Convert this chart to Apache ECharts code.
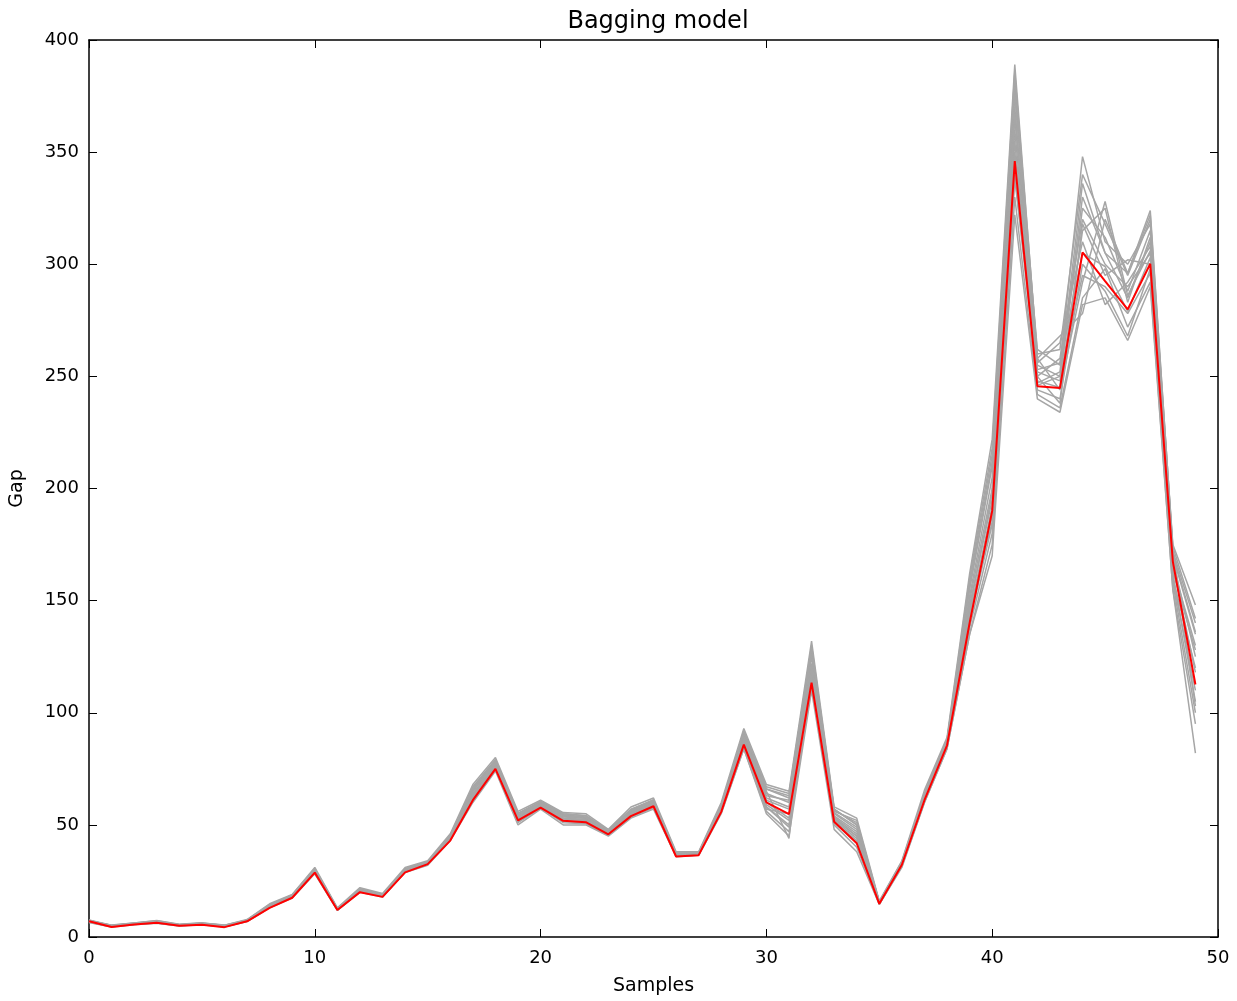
<!DOCTYPE html>
<html><head><meta charset="utf-8">
<script src="https://cdn.jsdelivr.net/npm/echarts@6/dist/echarts.min.js"></script>
<style>html,body{margin:0;padding:0;background:#fff}#c{width:1237px;height:1001px}</style>
</head><body><div id="c"></div>
<script>
const title = "Bagging model";
const xName = "Samples";
const yName = "Gap";
const samples = Array.from({length:50},(_, i)=>i);
const meanValues = [7,4.5,5.6,6.4,5,5.5,4.4,7,13,17.5,28.7,12,20,17.9,28.8,32.5,43,61,75,52,57.7,51.8,51.2,45.8,53.9,58.3,35.9,36.5,55.8,85.8,60,54.8,113.4,51.4,41.8,14.8,32.2,61,85.5,140,190,346,245.6,244.8,305.3,292.5,279.9,300.2,167.4,112.6];
const model1 = [7.5,5,6,7,5.5,6,5,7.5,14,18.5,30,12.5,21,18.5,30,33,45,65,78,54,60,54,53,47,56,60,37,37,58,90,64,60,125,55,48,15.5,33,63,87,150,200,380,255,250,330,305,285,310,165,130];
const model2 = [6.8,4.8,5.8,6.8,5.2,5.8,4.8,7.2,13.5,18,29.5,12.2,20.5,18.2,29.5,32.8,44,63,76,53,59,53,52,46.5,55,59.5,36.5,37,57,88,58,50,120,53,45,15,32.8,62,86,145,185,360,250,258,320,300,290,305,160,120];
const model3 = [7.2,5.2,6.2,7.2,5.6,6.2,5.2,7.6,14.5,18.8,30.5,12.8,21.5,19,30.5,33.5,45.5,67,79,55,60.5,55,54,47.5,57,61,37.5,37.5,59,92,66,63,130,57,50,15.8,33.5,64,88,155,210,385,260,262,340,318,295,320,172,140];
const model4 = [6.6,4.6,5.6,6.2,5,5.6,4.6,7,13.2,17.6,28.5,12,20.2,18,29,32.2,43.5,61,75,51,57.5,51,50.5,45.5,53.5,57.5,36,36.6,55.5,84,56,47,112,50,40,14.6,31.5,60,84,135,175,330,242,236,285,298,272,292,155,95];
const model5 = [7,5,5.9,6.6,5.3,5.9,4.9,7.3,13.8,18.2,29.8,12.4,20.8,18.6,29.8,33.2,44.5,64,77,53.5,59.5,53.5,53,47,55.5,60,36.8,37.2,57.5,89,62,58,122,54,47,15.2,33,62.5,86.5,148,195,370,248,245,315,325,283,312,170,135];
const model6 = [7.4,4.9,6.1,6.9,5.5,6.1,5.1,7.4,14.2,18.6,30.2,12.6,21.2,18.8,30.2,33.5,45,66,78.5,54.5,60,54.5,53.5,47.5,56.5,61,37.2,37.4,58.5,91,65,44,128,56,52,15.4,33.2,63.5,87.5,158,215,375,262,255,348,310,300,318,175,148];
const model7 = [6.9,4.7,5.7,6.5,5.1,5.7,4.7,7.1,13.4,17.8,29.2,12.1,20.4,18.1,29.4,32.6,43.8,62,76,52.5,58.5,52.5,52,46.2,54.5,59,36.3,36.8,56.5,87,59,52,118,52,44,14.9,32.5,61.5,85.5,142,188,355,244,240,300,288,268,298,162,105];
const model8 = [7.3,5.1,6,7,5.4,6,5,7.5,14,18.4,30,12.5,21,18.5,30,33.2,44.8,65,77.5,54,59.8,54,53.2,47.2,56,60.5,37,37.2,58,90,63,61,126,55.5,49,15.3,33.2,63,87,152,205,365,256,265,310,282,292,308,168,125];
const model9 = [6.7,4.6,5.7,6.3,5,5.6,4.6,7,13.2,17.7,28.8,12.1,20.3,18,29.2,32.4,43.6,61.5,75.5,51.5,58,51.5,51,45.8,54,58,36.1,36.7,56,85,57,55,115,51,42,14.7,31.8,60.5,85,138,180,340,246,250,295,290,278,296,158,100];
const model10 = [7.1,4.9,5.9,6.7,5.3,5.9,4.9,7.3,13.7,18.1,29.6,12.3,20.7,18.4,29.7,33,44.2,63.5,76.5,53,59,53,52.5,46.8,55.2,59.5,36.6,37,57.2,88.5,61,57,121,53.5,46,15.1,32.9,62.2,86.2,146,198,368,252,248,325,312,288,315,166,118];
const model11 = [7.6,5.3,6.3,7.4,5.7,6.3,5.3,7.8,14.8,19,31,13,22,19.4,31,34,46,68,80,56,61,55.5,55,48,58,62,38,38,60,93,68,65,132,58,53,16,34,65.5,89,162,222,389,258,268,278,320,296,322,174,142];
const model12 = [6.5,4.5,5.5,6.1,4.9,5.5,4.5,6.9,13,17.4,28.2,11.9,20,17.8,28.8,32,43,60,74,50,57,50,50,45,53,57,35.8,36.4,55,84,55,45,110,48,38,14.5,31,60,84,135,170,322,240,234,282,285,266,290,155,82];
const model13 = [7.1,4.8,5.8,6.6,5.2,5.8,4.8,7.2,13.6,18,29.4,12.3,20.6,18.3,29.6,32.9,44.1,63,76.2,52.8,58.8,52.8,52.2,46.4,55,59.2,36.5,36.9,57,87.5,60,53,119,52.5,45,15,32.7,62,86,144,192,350,258,244,292,328,286,306,163,128];
const model14 = [7.3,5,6,6.9,5.4,6,5,7.4,14.1,18.4,30.1,12.5,21,18.6,30,33.3,44.9,65.5,78,54.2,60,54.2,53.4,47.4,56.2,60.6,37.1,37.3,58.2,90.5,66,62,127,56.5,51,15.4,33.3,63.2,87.2,156,212,378,250,238,318,295,302,300,171,136];
const model15 = [6.8,4.7,5.7,6.4,5.1,5.7,4.7,7.1,13.3,17.8,29,12.1,20.4,18.1,29.3,32.5,43.7,62,75.8,52,58.2,52,51.5,46,54.3,58.6,36.2,36.8,56.2,86,58,49,116,51.5,43,14.8,32.2,61.2,85.4,141,184,338,253,256,305,299,279,303,159,110];
const model16 = [7.2,5.1,6.1,7,5.5,6.1,5.1,7.5,14.3,18.7,30.3,12.7,21.3,18.9,30.3,33.6,45.2,66.5,79,55.2,60.4,55,54.2,47.6,56.8,61.2,37.3,37.6,59,91.5,67,64,129,57,50,15.6,33.6,64,88,160,218,386,247,252,336,305,296,324,173,103];
const models = [model1,model2,model3,model4,model5,model6,model7,model8,model9,model10,model11,model12,model13,model14,model15,model16];
const xTicks = [0,10,20,30,40,50];
const yTicks = [0,50,100,150,200,250,300,350,400];

const font = "DejaVu Sans";
const toPairs = arr => samples.map((s,i)=>[s, arr[i]]);
const series = models.map(m => ({
  type:'line', data: toPairs(m), symbol:'none', silent:true,
  lineStyle:{color:'#a6a6a6', width:1.5}, z:2
}));
series.push({type:'line', data: toPairs(meanValues), symbol:'none',
  lineStyle:{color:'#ff0000', width:2}, z:5});

const chart = echarts.init(document.getElementById('c'), null, {renderer:'canvas'});
const axisLine = {show:true, onZero:false, lineStyle:{color:'#000', width:1.5}};
const tick = {show:true, inside:true, length:8, lineStyle:{color:'#000', width:1}};
chart.setOption({
  animation:false,
  backgroundColor:'#fff',
  title:{text:title, left:653, textAlign:'center', top:5, textStyle:{fontFamily:font, fontSize:24, fontWeight:'normal', color:'#000'}},
  grid:{left:89, right:19, top:40, bottom:59, containLabel:false},
  xAxis:[
    {type:'value', min:xTicks[0], max:xTicks[xTicks.length-1], interval:10, name:xName, nameLocation:'middle', nameGap:40,
     nameTextStyle:{fontFamily:font, fontSize:19, color:'#000'},
     axisLine, axisTick:tick, splitLine:{show:false},
     axisLabel:{fontFamily:font, fontSize:18, color:'#000', margin:12}},
    {type:'value', position:'top', min:0, max:50, interval:10, axisLine, axisTick:tick, axisLabel:{show:false}, splitLine:{show:false}}
  ],
  yAxis:[
    {type:'value', min:yTicks[0], max:yTicks[yTicks.length-1], interval:50, name:yName, nameLocation:'middle', nameGap:62,
     nameTextStyle:{fontFamily:font, fontSize:19, color:'#000'},
     axisLine, axisTick:tick, splitLine:{show:false},
     axisLabel:{fontFamily:font, fontSize:18, color:'#000', margin:10}},
    {type:'value', position:'right', min:0, max:400, interval:50, axisLine, axisTick:tick, axisLabel:{show:false}, splitLine:{show:false}}
  ],
  series
});
</script></body></html>
